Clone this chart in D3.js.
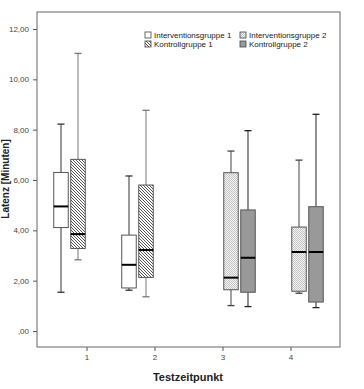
<!DOCTYPE html>
<html><head><meta charset="utf-8">
<script src="https://cdn.jsdelivr.net/npm/d3@7/dist/d3.min.js"></script>
<style>body{margin:0;background:#fff}svg{display:block}text{font-family:"Liberation Sans",Arial,sans-serif}</style>
</head><body>
<script>
const categories = [1, 2, 3, 4];
const groups = ["Interventionsgruppe 1", "Kontrollgruppe 1", "Interventionsgruppe 2", "Kontrollgruppe 2"];
const yTicks = [0, 2, 4, 6, 8, 10, 12];
// [category, group index, whiskerLow, q1, median, q3, whiskerHigh]
const boxIG1 = [[1, 0, 1.54, 4.11, 4.95, 6.30, 8.22], [2, 0, 1.62, 1.71, 2.63, 3.81, 6.16]];
const boxKG1 = [[1, 1, 2.83, 3.28, 3.85, 6.82, 11.03], [2, 1, 1.36, 2.13, 3.22, 5.80, 8.77]];
const boxIG2 = [[3, 2, 1.01, 1.64, 2.12, 6.29, 7.15], [4, 2, 1.50, 1.58, 3.14, 4.13, 6.79]];
const boxKG2 = [[3, 3, 0.97, 1.54, 2.91, 4.81, 7.96], [4, 3, 0.93, 1.15, 3.14, 4.94, 8.61]];

const W = 364, H = 389;
const frame = {l: 37, t: 12, r: 340, b: 347};
const svg = d3.select("body").append("svg").attr("width", W).attr("height", H);
const defs = svg.append("defs");
const hatch = defs.append("pattern").attr("id", "hatch").attr("patternUnits", "userSpaceOnUse").attr("width", 3).attr("height", 3);
hatch.append("rect").attr("width", 3).attr("height", 3).attr("fill", "#fff");
hatch.append("path").attr("d", "M-1,-1 L4,4 M-1,2 L1,4 M2,-1 L4,1").attr("stroke", "#555").attr("stroke-width", 1);
const dots = defs.append("pattern").attr("id", "dots").attr("patternUnits", "userSpaceOnUse").attr("width", 2).attr("height", 2);
dots.append("rect").attr("width", 2).attr("height", 2).attr("fill", "#f4f4f4");
dots.append("rect").attr("width", 1).attr("height", 1).attr("fill", "#c4c4c4");
dots.append("rect").attr("x", 1).attr("y", 1).attr("width", 1).attr("height", 1).attr("fill", "#c4c4c4");

const fills = ["#ffffff", "url(#hatch)", "url(#dots)", "#999999"];
const whiskerColor = ["#333", "#777", "#444", "#222"];

const y = d3.scaleLinear().domain([0, 12]).range([331, 29]);
const x = d3.scalePoint().domain(categories).range([frame.l, frame.r]).padding(0.728);
const slot = x.step() / 4;
const boxW = 14.5;
const gx = (c, g) => x(c) + (g - 1.5) * slot;

svg.append("rect").attr("x", frame.l).attr("y", frame.t).attr("width", frame.r - frame.l).attr("height", frame.b - frame.t)
  .attr("fill", "none").attr("stroke", "#666").attr("stroke-width", 1);

const yAxis = svg.append("g").attr("transform", `translate(${frame.l},0)`)
  .call(d3.axisLeft(y).tickValues(yTicks).tickSize(4).tickFormat(d => d === 0 ? ",00" : d3.format(".2f")(d).replace(".", ",")));
yAxis.select(".domain").remove();
yAxis.selectAll("line").attr("stroke", "#555");
yAxis.selectAll("text").attr("font-size", 8).attr("fill", "#444").attr("font-family", "Liberation Sans, Arial").attr("dx", "-1");

const xAxis = svg.append("g").attr("transform", `translate(0,${frame.b})`)
  .call(d3.axisBottom(x).tickSize(4));
xAxis.select(".domain").remove();
xAxis.selectAll("line").attr("stroke", "#555");
xAxis.selectAll("text").attr("font-size", 8).attr("fill", "#444").attr("font-family", "Liberation Sans, Arial");

svg.append("text").attr("x", 188).attr("y", 381).attr("text-anchor", "middle")
  .attr("font-size", 11).attr("font-weight", "bold").attr("fill", "#222").text("Testzeitpunkt");
svg.append("text").attr("transform", "translate(9,179) rotate(-90)").attr("text-anchor", "middle")
  .attr("font-size", 10).attr("font-weight", "bold").attr("fill", "#222").text("Latenz [Minuten]");

const all = [...boxIG1, ...boxKG1, ...boxIG2, ...boxKG2];
const g = svg.append("g");
all.forEach(([c, gi, lo, q1, med, q3, hi]) => {
  const cx = gx(c, gi);
  const col = whiskerColor[gi];
  g.append("line").attr("x1", cx).attr("x2", cx).attr("y1", y(hi)).attr("y2", y(q3)).attr("stroke", col);
  g.append("line").attr("x1", cx).attr("x2", cx).attr("y1", y(q1)).attr("y2", y(lo)).attr("stroke", col);
  g.append("line").attr("x1", cx - 3.5).attr("x2", cx + 3.5).attr("y1", y(hi)).attr("y2", y(hi)).attr("stroke", col).attr("stroke-width", 1.3);
  g.append("line").attr("x1", cx - 3.5).attr("x2", cx + 3.5).attr("y1", y(lo)).attr("y2", y(lo)).attr("stroke", col).attr("stroke-width", 1.3);
  g.append("rect").attr("x", cx - boxW / 2).attr("y", y(q3)).attr("width", boxW).attr("height", y(q1) - y(q3))
    .attr("fill", fills[gi]).attr("stroke", "#555").attr("stroke-width", 1);
  g.append("line").attr("x1", cx - boxW / 2).attr("x2", cx + boxW / 2).attr("y1", y(med)).attr("y2", y(med)).attr("stroke", "#000").attr("stroke-width", 2);
});

const legPos = [[145, 32], [145, 41], [240, 32], [240, 41]];
groups.forEach((name, i) => {
  const [lx, ly] = legPos[i];
  svg.append("rect").attr("x", lx).attr("y", ly).attr("width", 6).attr("height", 6)
    .attr("fill", fills[i]).attr("stroke", "#444").attr("stroke-width", 0.8);
  svg.append("text").attr("x", lx + 9).attr("y", ly + 6).attr("font-size", 8).attr("fill", "#222").text(name);
});
</script>
</body></html>
